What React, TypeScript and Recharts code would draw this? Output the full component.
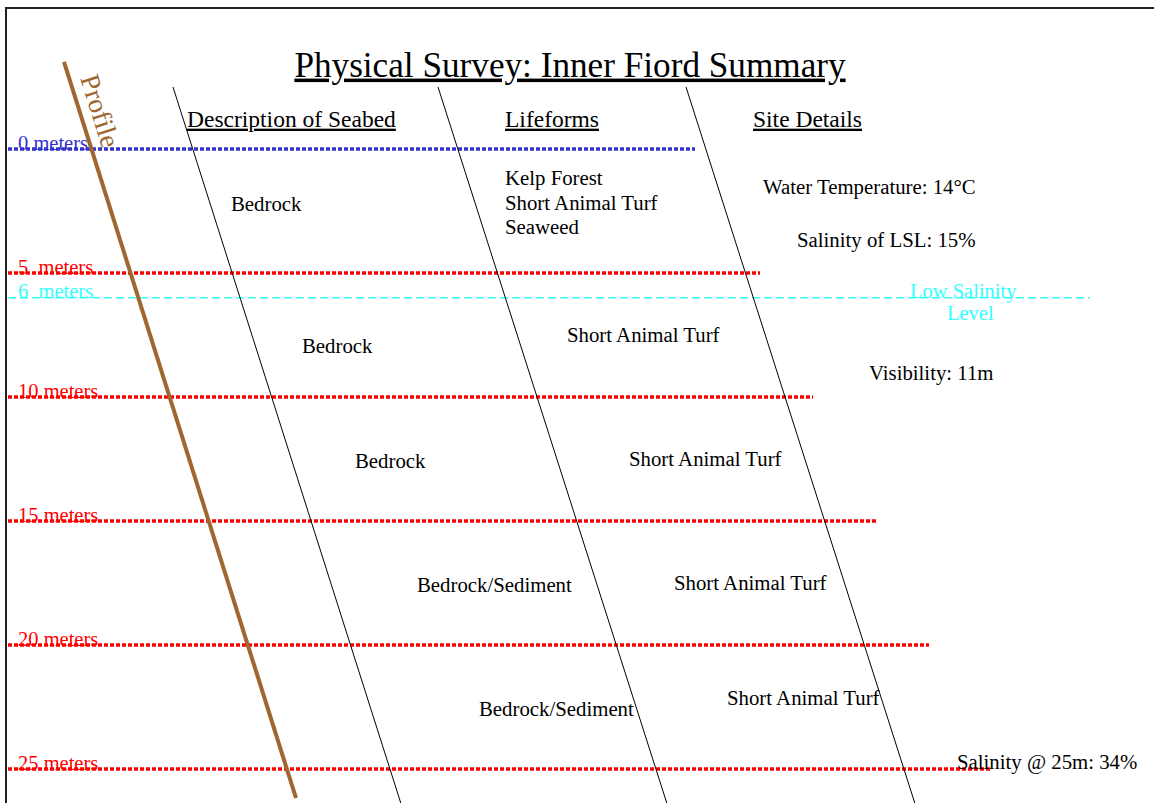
import React from "react";
import { ComposedChart, ReferenceLine, Scatter, XAxis, YAxis } from "recharts";

// depth markers (metres) and where each dotted line stops (x position)
const depths = [0, 5, 10, 15, 20, 25];
const depthNames = ["0 meters", "5  meters", "10 meters", "15 meters", "20 meters", "25 meters"];
const depthLineEnds = [695, 760, 813, 876, 929, 990];
const lineStart = 8;

// low salinity level
const lslDepth = 6;
const lslName = "6  meters";
const lslEnd = 1090;

// slanted lines: [x at top, depth at top, x at bottom, depth at bottom]
const profileLine = [64, -3.51, 296, 26.17];
const dividers = [
  [173, -2.5, 401, 26.4],
  [438, -2.5, 667, 26.4],
  [686, -2.5, 915, 26.4],
];

const title = "Physical Survey: Inner Fiord Summary";
const headers = ["Description of Seabed", "Lifeforms", "Site Details"];
const headerX = [187, 505, 753];

const seabed = ["Bedrock", "Bedrock", "Bedrock", "Bedrock/Sediment", "Bedrock/Sediment"];
const seabedX = [231, 302, 355, 417, 479];
const seabedDepth = [2.5, 8.23, 12.86, 17.86, 22.86];

const lifeforms = ["Kelp Forest", "Short Animal Turf", "Seaweed", "Short Animal Turf", "Short Animal Turf", "Short Animal Turf", "Short Animal Turf"];
const lifeX = [505, 505, 505, 567, 629, 674, 727];
const lifeDepth = [1.45, 2.46, 3.43, 7.78, 12.78, 17.78, 22.42];

const details = ["Water Temperature: 14°C", "Salinity of LSL: 15%", "Visibility: 11m", "Salinity @ 25m: 34%"];
const detailX = [763, 797, 869, 957];
const detailDepth = [1.81, 3.95, 9.31, 25.0];

const lslNotes = ["Low Salinity", "Level"];
const lslNoteX = [910, 947];
const lslNoteDepth = [6.0, 6.89];

const BLUE = "#3333cc";
const RED = "#ff0000";
const CYAN = "#33ffff";
const BROWN = "#a0662f";
const FONT = "'Liberation Serif', 'Times New Roman', serif";

type Txt = { x: number; d: number; text: string; color: string; size: number; anchor?: string; underline?: boolean; rotate?: number };

const texts: Txt[] = [
  { x: 570, d: -2.92, text: title, color: "#000", size: 35.2, anchor: "middle", underline: true },
  ...headers.map((h, i) => ({ x: headerX[i], d: -0.9, text: h, color: "#000", size: 23.5, underline: true })),
  ...depths.map((dp, i) => ({ x: 18, d: dp + 0.04, text: depthNames[i], color: i === 0 ? BLUE : RED, size: 20.5 })),
  { x: 18, d: lslDepth, text: lslName, color: CYAN, size: 20.5 },
  ...seabed.map((t, i) => ({ x: seabedX[i], d: seabedDepth[i], text: t, color: "#000", size: 20.8 })),
  ...lifeforms.map((t, i) => ({ x: lifeX[i], d: lifeDepth[i], text: t, color: "#000", size: 20.8 })),
  ...details.map((t, i) => ({ x: detailX[i], d: detailDepth[i], text: t, color: "#000", size: 20.8 })),
  ...lslNotes.map((t, i) => ({ x: lslNoteX[i], d: lslNoteDepth[i], text: t, color: CYAN, size: 20.5 })),
  { x: 80, d: -2.86, text: "Profile", color: BROWN, size: 27.5, rotate: 72.5 },
];

const seg = (l: number[]) => [
  { x: l[0], y: l[1] },
  { x: l[2], y: l[3] },
];

function TextShape(props: any) {
  const { cx, cy, payload } = props;
  const p = payload as Txt;
  if (!p || !p.text) return null;
  return (
    <text
      x={cx}
      y={cy}
      fill={p.color}
      fontSize={p.size}
      fontFamily={FONT}
      textAnchor={p.anchor || "start"}
      textDecoration={p.underline ? "underline" : undefined}
      transform={p.rotate ? `rotate(${p.rotate} ${cx} ${cy})` : undefined}
      style={{ whiteSpace: "pre" }}
    >
      {p.text}
    </text>
  );
}

export default function App() {
  return (
    <div style={{ position: "absolute", left: 0, top: 0, width: 1154, height: 803, background: "#fff", overflow: "hidden" }}>
      <div
        style={{
          position: "absolute",
          left: 5,
          top: 7,
          width: 1200,
          height: 900,
          borderLeft: "2px solid #222",
          borderTop: "2px solid #222",
        }}
      />
      <div style={{ position: "absolute", left: 0, top: 0 }}>
        <ComposedChart width={1154} height={803} margin={{ top: 0, right: 0, bottom: 0, left: 0 }}>
          <XAxis type="number" dataKey="x" domain={[0, 1154]} hide allowDataOverflow />
          <YAxis type="number" dataKey="d" domain={[-6.008, 26.371]} reversed hide allowDataOverflow />
          {depths.map((dp, i) => (
            <ReferenceLine
              key={"depth" + i}
              segment={[
                { x: lineStart, y: dp },
                { x: depthLineEnds[i], y: dp },
              ]}
              stroke={i === 0 ? BLUE : RED}
              strokeWidth={3.5}
              strokeDasharray="4 2"
              ifOverflow="visible"
            />
          ))}
          <ReferenceLine
            segment={[
              { x: lineStart, y: lslDepth },
              { x: lslEnd, y: lslDepth },
            ]}
            stroke={CYAN}
            strokeWidth={1.5}
            strokeDasharray="8 4"
            ifOverflow="visible"
          />
          {dividers.map((l, i) => (
            <ReferenceLine key={"div" + i} segment={seg(l)} stroke="#000" strokeWidth={1} ifOverflow="visible" />
          ))}
          <ReferenceLine segment={seg(profileLine)} stroke={BROWN} strokeWidth={4} ifOverflow="visible" />
          <Scatter data={texts} dataKey="d" shape={<TextShape />} isAnimationActive={false} />
        </ComposedChart>
      </div>
    </div>
  );
}
